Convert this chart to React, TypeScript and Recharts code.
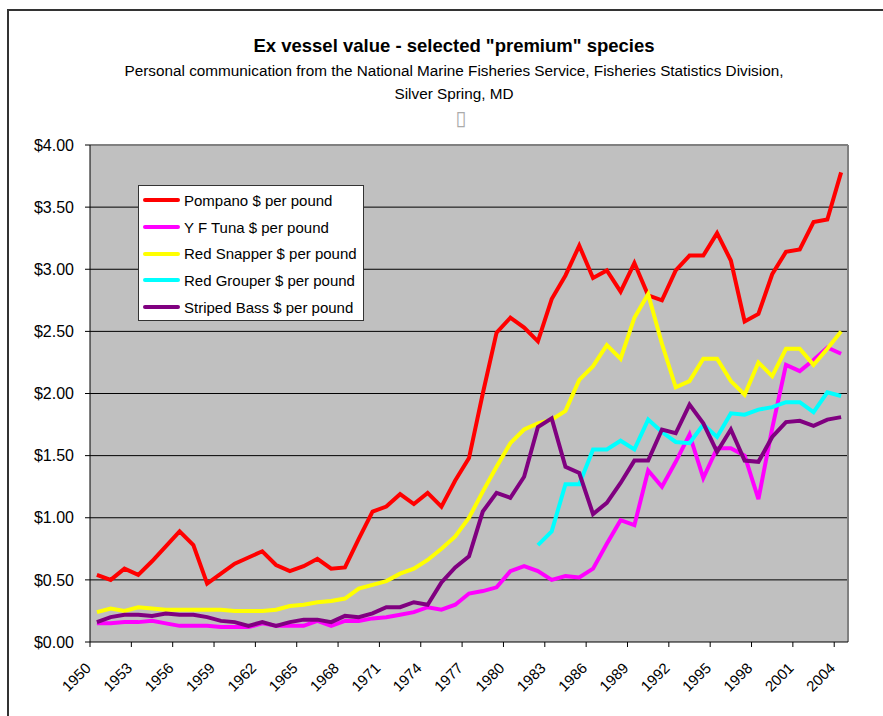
import React from 'react';
import { LineChart, Line, XAxis, YAxis, CartesianGrid, ReferenceLine, Legend } from 'recharts';

const years = [
  1950, 1951, 1952, 1953, 1954, 1955, 1956, 1957, 1958, 1959,
  1960, 1961, 1962, 1963, 1964, 1965, 1966, 1967, 1968, 1969,
  1970, 1971, 1972, 1973, 1974, 1975, 1976, 1977, 1978, 1979,
  1980, 1981, 1982, 1983, 1984, 1985, 1986, 1987, 1988, 1989,
  1990, 1991, 1992, 1993, 1994, 1995, 1996, 1997, 1998, 1999,
  2000, 2001, 2002, 2003, 2004,
];

const pompano = [
  0.54, 0.50, 0.59, 0.54, 0.65, 0.77, 0.89, 0.78, 0.47, 0.55,
  0.63, 0.68, 0.73, 0.62, 0.57, 0.61, 0.67, 0.59, 0.60, 0.83,
  1.05, 1.09, 1.19, 1.11, 1.20, 1.09, 1.30, 1.48, 2.00, 2.49,
  2.61, 2.53, 2.42, 2.76, 2.95, 3.19, 2.93, 2.99, 2.82, 3.05,
  2.79, 2.75, 2.99, 3.11, 3.11, 3.29, 3.07, 2.58, 2.64, 2.96,
  3.14, 3.16, 3.38, 3.40, 3.78,
];

const yfTuna = [
  0.15, 0.15, 0.16, 0.16, 0.17, 0.15, 0.13, 0.13, 0.13, 0.12,
  0.12, 0.12, 0.15, 0.13, 0.13, 0.13, 0.17, 0.13, 0.17, 0.17,
  0.19, 0.20, 0.22, 0.24, 0.28, 0.26, 0.30, 0.39, 0.41, 0.44,
  0.57, 0.61, 0.57, 0.50, 0.53, 0.52, 0.59, 0.79, 0.98, 0.94,
  1.38, 1.25, 1.45, 1.67, 1.32, 1.56, 1.56, 1.50, 1.15, 1.72,
  2.23, 2.18, 2.27, 2.37, 2.32,
];

const redSnapper = [
  0.24, 0.27, 0.25, 0.28, 0.27, 0.26, 0.26, 0.26, 0.26, 0.26,
  0.25, 0.25, 0.25, 0.26, 0.29, 0.30, 0.32, 0.33, 0.35, 0.43,
  0.46, 0.49, 0.55, 0.59, 0.66, 0.75, 0.85, 1.00, 1.21, 1.41,
  1.60, 1.71, 1.76, 1.79, 1.86, 2.11, 2.22, 2.39, 2.28, 2.61,
  2.80, 2.40, 2.05, 2.10, 2.28, 2.28, 2.10, 1.99, 2.25, 2.14,
  2.36, 2.36, 2.23, 2.36, 2.50,
];

// no red grouper figures before 1982
const redGrouper = [
  null, null, null, null, null, null, null, null, null, null,
  null, null, null, null, null, null, null, null, null, null,
  null, null, null, null, null, null, null, null, null, null,
  null, null, 0.78, 0.89, 1.27, 1.27, 1.55, 1.55, 1.62, 1.55,
  1.79, 1.69, 1.61, 1.60, 1.75, 1.65, 1.84, 1.83, 1.87, 1.89,
  1.93, 1.93, 1.85, 2.01, 1.98,
];

const stripedBass = [
  0.16, 0.20, 0.22, 0.22, 0.21, 0.23, 0.22, 0.22, 0.20, 0.17,
  0.16, 0.13, 0.16, 0.13, 0.16, 0.18, 0.18, 0.16, 0.21, 0.20,
  0.23, 0.28, 0.28, 0.32, 0.30, 0.48, 0.60, 0.69, 1.05, 1.20,
  1.16, 1.33, 1.73, 1.80, 1.41, 1.36, 1.03, 1.12, 1.28, 1.46,
  1.46, 1.71, 1.68, 1.91, 1.76, 1.53, 1.71, 1.46, 1.45, 1.65,
  1.77, 1.78, 1.74, 1.79, 1.81,
];

const yearTicks = [1950, 1953, 1956, 1959, 1962, 1965, 1968, 1971, 1974, 1977, 1980, 1983, 1986, 1989, 1992, 1995, 1998, 2001, 2004];
const valueTicks = [0, 0.5, 1, 1.5, 2, 2.5, 3, 3.5, 4];
const gridValues = [0.5, 1, 1.5, 2, 2.5, 3, 3.5];

const series = [
  { key: 'pompano', name: 'Pompano $ per pound', color: '#FF0000', values: pompano },
  { key: 'yfTuna', name: 'Y F Tuna $ per pound', color: '#FF00FF', values: yfTuna },
  { key: 'redSnapper', name: 'Red Snapper $ per pound', color: '#FFFF00', values: redSnapper },
  { key: 'redGrouper', name: 'Red Grouper $ per pound', color: '#00FFFF', values: redGrouper },
  { key: 'stripedBass', name: 'Striped Bass $ per pound', color: '#800080', values: stripedBass },
];

const data = years.map((year, i) => {
  const row: Record<string, number | null> = { year };
  series.forEach(s => {
    row[s.key] = s.values[i];
  });
  return row;
});

const W = 883;
const H = 716;
const FONT = 'Arial, "Liberation Sans", sans-serif';
const PLOT_LEFT = 90;
const PLOT_RIGHT = 848;
const HALF_BAND = (PLOT_RIGHT - PLOT_LEFT) / years.length / 2;

const YearTick = (props: any) => {
  const { x, y, payload } = props;
  const ax = x - 5;
  const ay = y + 27;
  return (
    <g>
      <line x1={x - HALF_BAND} x2={x - HALF_BAND} y1={y} y2={y + 5} stroke="#000" />
      <text
        x={ax}
        y={ay}
        textAnchor="end"
        transform={`rotate(-45 ${ax} ${ay})`}
        fontSize={15}
        fontFamily={FONT}
        fill="#000"
      >
        {payload.value}
      </text>
    </g>
  );
};

const LegendBox = () => (
  <div
    style={{
      width: 226,
      height: 136,
      boxSizing: 'border-box',
      background: '#fff',
      border: '1px solid #333',
      paddingTop: 1,
      fontFamily: FONT,
      fontSize: 15,
      color: '#000',
    }}
  >
    {series.map(s => (
      <div key={s.key} style={{ height: 26.7, display: 'flex', alignItems: 'center' }}>
        <span style={{ display: 'inline-block', width: 37, height: 4, background: s.color, marginLeft: 4, marginRight: 4, borderRadius: 2 }} />
        <span style={{ whiteSpace: 'nowrap' }}>{s.name}</span>
      </div>
    ))}
  </div>
);

export default function App() {
  return (
    <div style={{ position: 'absolute', left: 0, top: 0, width: W, height: H, background: '#fff', overflow: 'hidden' }}>
      <div
        style={{
          position: 'absolute',
          left: 7,
          top: 9,
          width: W + 20,
          height: H + 20,
          borderTop: '2px solid #333',
          borderLeft: '2px solid #333',
        }}
      />
      <div style={{ position: 'absolute', left: 0, width: 908, top: 35, textAlign: 'center', fontFamily: FONT, color: '#000' }}>
        <div style={{ fontWeight: 'bold', fontSize: 18.5, lineHeight: '22px' }}>Ex vessel value - selected "premium" species</div>
        <div style={{ fontSize: 15.3, lineHeight: '23px', marginTop: 2 }}>
          Personal communication from the National Marine Fisheries Service, Fisheries Statistics Division,
        </div>
        <div style={{ fontSize: 15.3, lineHeight: '23px' }}>Silver Spring, MD</div>
        <div style={{ fontSize: 20, lineHeight: '26px', color: '#aaa', fontFamily: '"DejaVu Sans"', marginLeft: 14 }}>▯</div>
      </div>
      <LineChart
        width={W}
        height={H}
        data={data}
        margin={{ top: 145, right: W - PLOT_RIGHT, bottom: 0, left: 10 }}
        style={{ position: 'absolute', left: 0, top: 0 }}
      >
        <CartesianGrid vertical={false} horizontal={false} fill="#C0C0C0" fillOpacity={1} />
        {gridValues.map(v => (
          <ReferenceLine key={v} y={v} stroke="#000" strokeWidth={1} />
        ))}
        <ReferenceLine y={4} stroke="#808080" strokeWidth={2} />
        <ReferenceLine x={2004.5} stroke="#808080" strokeWidth={2} />
        <XAxis
          dataKey="year"
          type="number"
          domain={[1949.5, 2004.5]}
          ticks={yearTicks}
          interval={0}
          height={74}
          tickSize={0}
          tickMargin={0}
          tickLine={false}
          axisLine={{ stroke: '#000' }}
          tick={<YearTick />}
        />
        <YAxis
          domain={[0, 4]}
          ticks={valueTicks}
          interval={0}
          width={80}
          tickSize={5}
          tickMargin={11}
          axisLine={{ stroke: '#000' }}
          tickLine={{ stroke: '#000' }}
          tick={{ fontSize: 16, fontFamily: FONT, fill: '#000' }}
          tickFormatter={(v: number) => `$${v.toFixed(2)}`}
        />
        <Legend
          layout="vertical"
          align="center"
          verticalAlign="middle"
          content={<LegendBox />}
          wrapperStyle={{ position: 'absolute', left: 138, top: 185, width: 'auto', height: 'auto' }}
        />
        {series.map(s => (
          <Line
            key={s.key}
            dataKey={s.key}
            name={s.name}
            stroke={s.color}
            strokeWidth={4}
            dot={false}
            activeDot={false}
            connectNulls={false}
            isAnimationActive={false}
          />
        ))}
      </LineChart>
    </div>
  );
}
